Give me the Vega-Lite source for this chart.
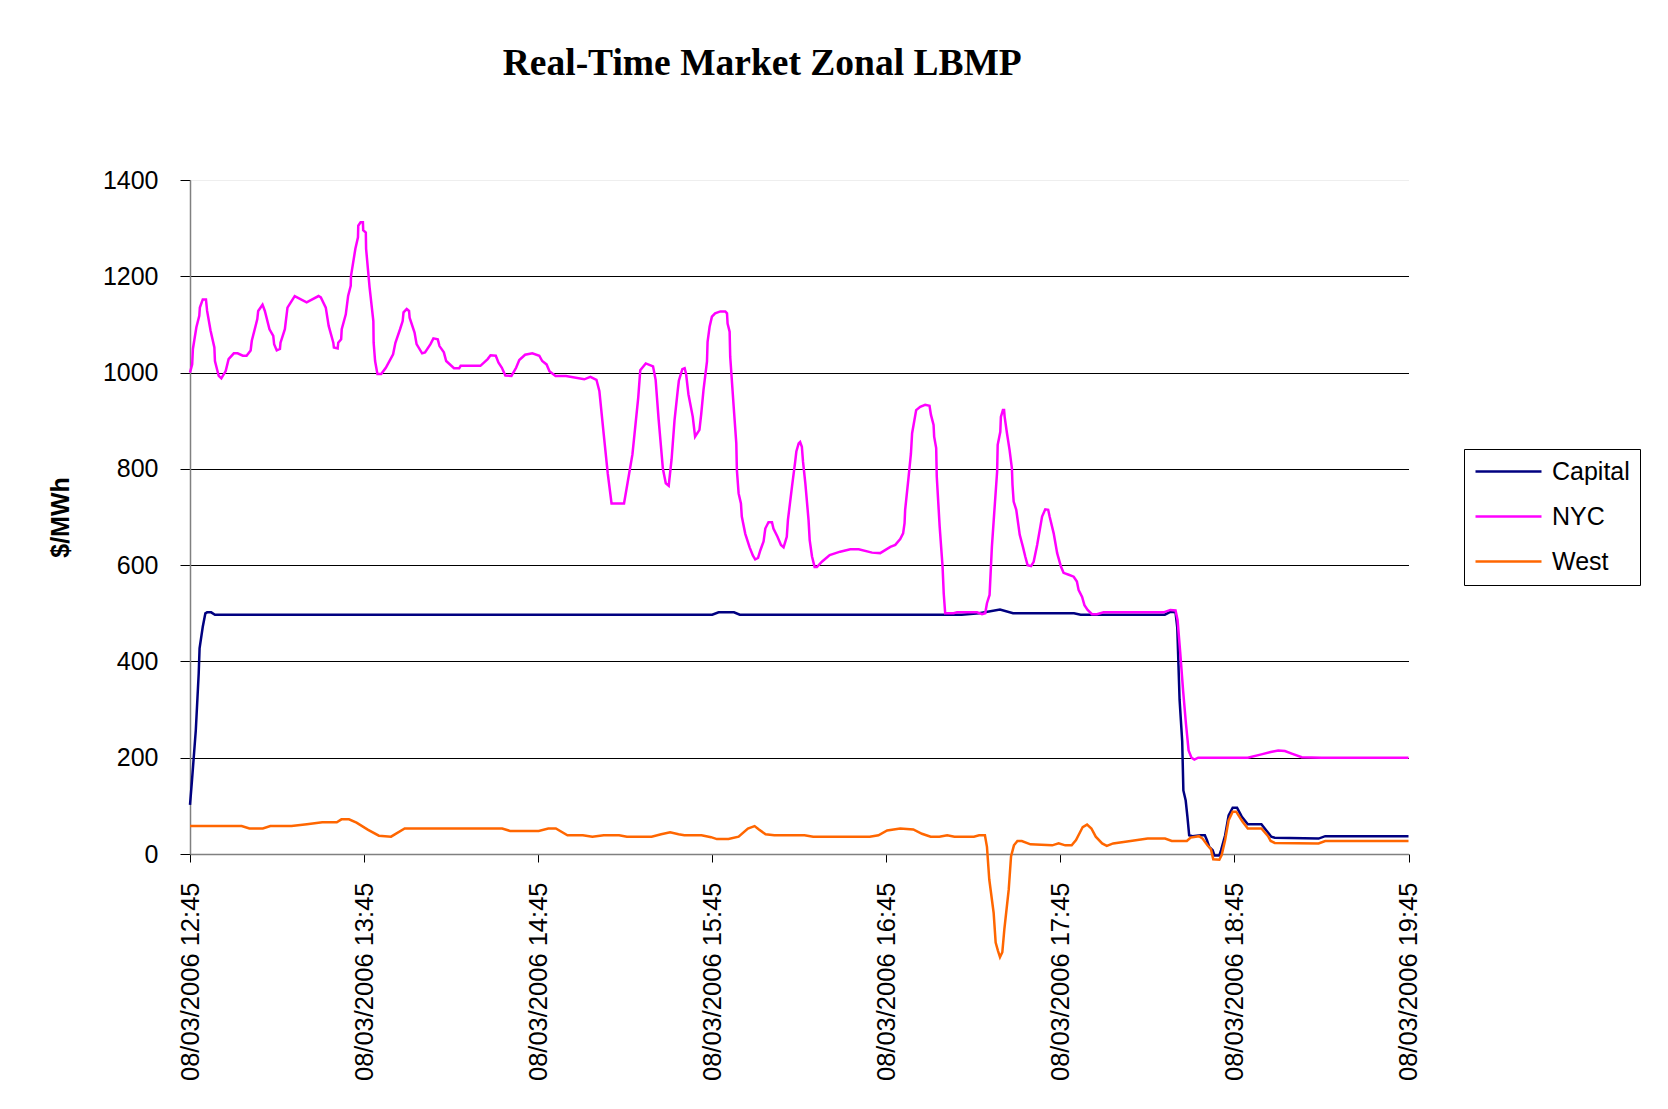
{
  "$schema": "https://vega.github.io/schema/vega-lite/v6.json",
  "autosize": {"type": "none"},
  "width": 1218.5,
  "height": 674,
  "padding": {"left": 190, "top": 180, "right": 259.5, "bottom": 255},
  "background": "white",
  "title": {
    "text": "Real-Time Market Zonal LBMP",
    "font": "Liberation Serif",
    "fontSize": 37.5,
    "fontWeight": "bold",
    "color": "black",
    "anchor": "middle",
    "frame": "group",
    "baseline": "alphabetic",
    "offset": 56,
    "dx": -37
  },
  "config": {
    "view": {"stroke": null},
    "font": "Liberation Sans"
  },
  "datasets": {
    "lbmp": [
      {"zone":"Capital","time":"2006-08-03T12:45:00","price":102},
      {"zone":"Capital","time":"2006-08-03T12:45:42","price":154},
      {"zone":"Capital","time":"2006-08-03T12:47:00","price":257},
      {"zone":"Capital","time":"2006-08-03T12:48:00","price":375},
      {"zone":"Capital","time":"2006-08-03T12:48:18","price":427},
      {"zone":"Capital","time":"2006-08-03T12:49:24","price":472},
      {"zone":"Capital","time":"2006-08-03T12:50:18","price":500},
      {"zone":"Capital","time":"2006-08-03T12:50:54","price":502},
      {"zone":"Capital","time":"2006-08-03T12:52:18","price":502},
      {"zone":"Capital","time":"2006-08-03T12:53:36","price":497},
      {"zone":"Capital","time":"2006-08-03T15:45:00","price":497},
      {"zone":"Capital","time":"2006-08-03T15:47:12","price":502},
      {"zone":"Capital","time":"2006-08-03T15:52:30","price":502},
      {"zone":"Capital","time":"2006-08-03T15:54:30","price":497},
      {"zone":"Capital","time":"2006-08-03T17:11:00","price":497},
      {"zone":"Capital","time":"2006-08-03T17:17:00","price":500},
      {"zone":"Capital","time":"2006-08-03T17:24:12","price":508},
      {"zone":"Capital","time":"2006-08-03T17:28:42","price":500},
      {"zone":"Capital","time":"2006-08-03T17:49:42","price":500},
      {"zone":"Capital","time":"2006-08-03T17:52:00","price":497},
      {"zone":"Capital","time":"2006-08-03T18:21:00","price":497},
      {"zone":"Capital","time":"2006-08-03T18:22:54","price":503},
      {"zone":"Capital","time":"2006-08-03T18:24:42","price":502},
      {"zone":"Capital","time":"2006-08-03T18:25:18","price":470},
      {"zone":"Capital","time":"2006-08-03T18:26:06","price":320},
      {"zone":"Capital","time":"2006-08-03T18:27:00","price":234},
      {"zone":"Capital","time":"2006-08-03T18:27:24","price":132},
      {"zone":"Capital","time":"2006-08-03T18:28:12","price":111},
      {"zone":"Capital","time":"2006-08-03T18:28:48","price":77},
      {"zone":"Capital","time":"2006-08-03T18:29:24","price":39},
      {"zone":"Capital","time":"2006-08-03T18:30:30","price":37},
      {"zone":"Capital","time":"2006-08-03T18:33:24","price":39},
      {"zone":"Capital","time":"2006-08-03T18:34:48","price":39},
      {"zone":"Capital","time":"2006-08-03T18:35:30","price":29},
      {"zone":"Capital","time":"2006-08-03T18:36:18","price":15},
      {"zone":"Capital","time":"2006-08-03T18:37:30","price":8},
      {"zone":"Capital","time":"2006-08-03T18:38:06","price":-3},
      {"zone":"Capital","time":"2006-08-03T18:39:48","price":-3},
      {"zone":"Capital","time":"2006-08-03T18:40:24","price":8},
      {"zone":"Capital","time":"2006-08-03T18:41:48","price":39},
      {"zone":"Capital","time":"2006-08-03T18:43:00","price":80},
      {"zone":"Capital","time":"2006-08-03T18:44:24","price":96},
      {"zone":"Capital","time":"2006-08-03T18:45:54","price":96},
      {"zone":"Capital","time":"2006-08-03T18:47:30","price":78},
      {"zone":"Capital","time":"2006-08-03T18:49:36","price":62},
      {"zone":"Capital","time":"2006-08-03T18:54:18","price":62},
      {"zone":"Capital","time":"2006-08-03T18:56:00","price":49},
      {"zone":"Capital","time":"2006-08-03T18:57:42","price":36},
      {"zone":"Capital","time":"2006-08-03T18:58:54","price":34},
      {"zone":"Capital","time":"2006-08-03T19:14:00","price":32},
      {"zone":"Capital","time":"2006-08-03T19:16:18","price":37},
      {"zone":"Capital","time":"2006-08-03T19:45:00","price":37},

      {"zone":"NYC","time":"2006-08-03T12:45:00","price":1000},
      {"zone":"NYC","time":"2006-08-03T12:45:45","price":1017},
      {"zone":"NYC","time":"2006-08-03T12:46:00","price":1049},
      {"zone":"NYC","time":"2006-08-03T12:47:12","price":1094},
      {"zone":"NYC","time":"2006-08-03T12:48:12","price":1118},
      {"zone":"NYC","time":"2006-08-03T12:48:24","price":1135},
      {"zone":"NYC","time":"2006-08-03T12:49:24","price":1152},
      {"zone":"NYC","time":"2006-08-03T12:50:30","price":1152},
      {"zone":"NYC","time":"2006-08-03T12:50:54","price":1128},
      {"zone":"NYC","time":"2006-08-03T12:52:06","price":1087},
      {"zone":"NYC","time":"2006-08-03T12:53:24","price":1052},
      {"zone":"NYC","time":"2006-08-03T12:53:36","price":1024},
      {"zone":"NYC","time":"2006-08-03T12:54:54","price":993},
      {"zone":"NYC","time":"2006-08-03T12:55:48","price":988},
      {"zone":"NYC","time":"2006-08-03T12:57:18","price":1003},
      {"zone":"NYC","time":"2006-08-03T12:58:18","price":1028},
      {"zone":"NYC","time":"2006-08-03T13:00:06","price":1040},
      {"zone":"NYC","time":"2006-08-03T13:01:24","price":1040},
      {"zone":"NYC","time":"2006-08-03T13:03:12","price":1035},
      {"zone":"NYC","time":"2006-08-03T13:04:30","price":1035},
      {"zone":"NYC","time":"2006-08-03T13:05:54","price":1046},
      {"zone":"NYC","time":"2006-08-03T13:06:18","price":1066},
      {"zone":"NYC","time":"2006-08-03T13:08:12","price":1111},
      {"zone":"NYC","time":"2006-08-03T13:08:30","price":1128},
      {"zone":"NYC","time":"2006-08-03T13:10:00","price":1141},
      {"zone":"NYC","time":"2006-08-03T13:10:48","price":1128},
      {"zone":"NYC","time":"2006-08-03T13:12:24","price":1090},
      {"zone":"NYC","time":"2006-08-03T13:13:42","price":1076},
      {"zone":"NYC","time":"2006-08-03T13:14:00","price":1059},
      {"zone":"NYC","time":"2006-08-03T13:14:54","price":1046},
      {"zone":"NYC","time":"2006-08-03T13:16:00","price":1049},
      {"zone":"NYC","time":"2006-08-03T13:16:12","price":1062},
      {"zone":"NYC","time":"2006-08-03T13:17:42","price":1090},
      {"zone":"NYC","time":"2006-08-03T13:18:36","price":1135},
      {"zone":"NYC","time":"2006-08-03T13:21:06","price":1159},
      {"zone":"NYC","time":"2006-08-03T13:25:12","price":1146},
      {"zone":"NYC","time":"2006-08-03T13:29:18","price":1159},
      {"zone":"NYC","time":"2006-08-03T13:30:06","price":1156},
      {"zone":"NYC","time":"2006-08-03T13:31:48","price":1135},
      {"zone":"NYC","time":"2006-08-03T13:32:48","price":1097},
      {"zone":"NYC","time":"2006-08-03T13:34:24","price":1062},
      {"zone":"NYC","time":"2006-08-03T13:34:36","price":1052},
      {"zone":"NYC","time":"2006-08-03T13:35:54","price":1050},
      {"zone":"NYC","time":"2006-08-03T13:36:06","price":1062},
      {"zone":"NYC","time":"2006-08-03T13:37:06","price":1069},
      {"zone":"NYC","time":"2006-08-03T13:37:18","price":1090},
      {"zone":"NYC","time":"2006-08-03T13:38:42","price":1121},
      {"zone":"NYC","time":"2006-08-03T13:39:30","price":1159},
      {"zone":"NYC","time":"2006-08-03T13:40:24","price":1180},
      {"zone":"NYC","time":"2006-08-03T13:40:30","price":1201},
      {"zone":"NYC","time":"2006-08-03T13:42:00","price":1257},
      {"zone":"NYC","time":"2006-08-03T13:42:54","price":1281},
      {"zone":"NYC","time":"2006-08-03T13:43:00","price":1305},
      {"zone":"NYC","time":"2006-08-03T13:43:48","price":1312},
      {"zone":"NYC","time":"2006-08-03T13:44:36","price":1312},
      {"zone":"NYC","time":"2006-08-03T13:44:42","price":1296},
      {"zone":"NYC","time":"2006-08-03T13:45:36","price":1291},
      {"zone":"NYC","time":"2006-08-03T13:45:42","price":1257},
      {"zone":"NYC","time":"2006-08-03T13:46:54","price":1177},
      {"zone":"NYC","time":"2006-08-03T13:48:12","price":1107},
      {"zone":"NYC","time":"2006-08-03T13:48:18","price":1062},
      {"zone":"NYC","time":"2006-08-03T13:48:48","price":1024},
      {"zone":"NYC","time":"2006-08-03T13:49:36","price":997},
      {"zone":"NYC","time":"2006-08-03T13:50:54","price":997},
      {"zone":"NYC","time":"2006-08-03T13:52:30","price":1010},
      {"zone":"NYC","time":"2006-08-03T13:55:00","price":1038},
      {"zone":"NYC","time":"2006-08-03T13:55:48","price":1062},
      {"zone":"NYC","time":"2006-08-03T13:57:24","price":1090},
      {"zone":"NYC","time":"2006-08-03T13:58:18","price":1107},
      {"zone":"NYC","time":"2006-08-03T13:58:36","price":1125},
      {"zone":"NYC","time":"2006-08-03T13:59:42","price":1132},
      {"zone":"NYC","time":"2006-08-03T14:00:30","price":1128},
      {"zone":"NYC","time":"2006-08-03T14:00:42","price":1114},
      {"zone":"NYC","time":"2006-08-03T14:02:24","price":1083},
      {"zone":"NYC","time":"2006-08-03T14:03:06","price":1059},
      {"zone":"NYC","time":"2006-08-03T14:05:00","price":1040},
      {"zone":"NYC","time":"2006-08-03T14:06:00","price":1042},
      {"zone":"NYC","time":"2006-08-03T14:07:54","price":1059},
      {"zone":"NYC","time":"2006-08-03T14:08:54","price":1071},
      {"zone":"NYC","time":"2006-08-03T14:10:24","price":1069},
      {"zone":"NYC","time":"2006-08-03T14:11:00","price":1055},
      {"zone":"NYC","time":"2006-08-03T14:12:30","price":1042},
      {"zone":"NYC","time":"2006-08-03T14:13:18","price":1024},
      {"zone":"NYC","time":"2006-08-03T14:16:00","price":1009},
      {"zone":"NYC","time":"2006-08-03T14:17:48","price":1009},
      {"zone":"NYC","time":"2006-08-03T14:18:18","price":1014},
      {"zone":"NYC","time":"2006-08-03T14:25:06","price":1014},
      {"zone":"NYC","time":"2006-08-03T14:27:36","price":1028},
      {"zone":"NYC","time":"2006-08-03T14:28:36","price":1036},
      {"zone":"NYC","time":"2006-08-03T14:30:24","price":1035},
      {"zone":"NYC","time":"2006-08-03T14:31:18","price":1021},
      {"zone":"NYC","time":"2006-08-03T14:32:30","price":1010},
      {"zone":"NYC","time":"2006-08-03T14:33:42","price":994},
      {"zone":"NYC","time":"2006-08-03T14:35:48","price":993},
      {"zone":"NYC","time":"2006-08-03T14:37:24","price":1010},
      {"zone":"NYC","time":"2006-08-03T14:38:30","price":1026},
      {"zone":"NYC","time":"2006-08-03T14:40:30","price":1037},
      {"zone":"NYC","time":"2006-08-03T14:43:00","price":1040},
      {"zone":"NYC","time":"2006-08-03T14:45:24","price":1035},
      {"zone":"NYC","time":"2006-08-03T14:46:24","price":1024},
      {"zone":"NYC","time":"2006-08-03T14:47:54","price":1017},
      {"zone":"NYC","time":"2006-08-03T14:48:54","price":1003},
      {"zone":"NYC","time":"2006-08-03T14:51:00","price":993},
      {"zone":"NYC","time":"2006-08-03T14:54:36","price":993},
      {"zone":"NYC","time":"2006-08-03T15:00:54","price":986},
      {"zone":"NYC","time":"2006-08-03T15:03:00","price":991},
      {"zone":"NYC","time":"2006-08-03T15:05:06","price":985},
      {"zone":"NYC","time":"2006-08-03T15:06:06","price":962},
      {"zone":"NYC","time":"2006-08-03T15:07:36","price":872},
      {"zone":"NYC","time":"2006-08-03T15:09:00","price":790},
      {"zone":"NYC","time":"2006-08-03T15:10:18","price":728},
      {"zone":"NYC","time":"2006-08-03T15:14:36","price":728},
      {"zone":"NYC","time":"2006-08-03T15:15:48","price":770},
      {"zone":"NYC","time":"2006-08-03T15:17:30","price":830},
      {"zone":"NYC","time":"2006-08-03T15:19:30","price":948},
      {"zone":"NYC","time":"2006-08-03T15:20:12","price":1005},
      {"zone":"NYC","time":"2006-08-03T15:22:06","price":1019},
      {"zone":"NYC","time":"2006-08-03T15:24:36","price":1013},
      {"zone":"NYC","time":"2006-08-03T15:25:30","price":985},
      {"zone":"NYC","time":"2006-08-03T15:26:30","price":905},
      {"zone":"NYC","time":"2006-08-03T15:28:00","price":800},
      {"zone":"NYC","time":"2006-08-03T15:29:00","price":770},
      {"zone":"NYC","time":"2006-08-03T15:30:00","price":765},
      {"zone":"NYC","time":"2006-08-03T15:31:00","price":820},
      {"zone":"NYC","time":"2006-08-03T15:32:00","price":900},
      {"zone":"NYC","time":"2006-08-03T15:33:06","price":962},
      {"zone":"NYC","time":"2006-08-03T15:33:30","price":983},
      {"zone":"NYC","time":"2006-08-03T15:34:42","price":1007},
      {"zone":"NYC","time":"2006-08-03T15:35:30","price":1009},
      {"zone":"NYC","time":"2006-08-03T15:36:00","price":997},
      {"zone":"NYC","time":"2006-08-03T15:36:48","price":955},
      {"zone":"NYC","time":"2006-08-03T15:38:18","price":908},
      {"zone":"NYC","time":"2006-08-03T15:39:06","price":867},
      {"zone":"NYC","time":"2006-08-03T15:40:36","price":881},
      {"zone":"NYC","time":"2006-08-03T15:41:12","price":913},
      {"zone":"NYC","time":"2006-08-03T15:42:00","price":964},
      {"zone":"NYC","time":"2006-08-03T15:43:12","price":1023},
      {"zone":"NYC","time":"2006-08-03T15:43:24","price":1064},
      {"zone":"NYC","time":"2006-08-03T15:44:06","price":1095},
      {"zone":"NYC","time":"2006-08-03T15:44:54","price":1116},
      {"zone":"NYC","time":"2006-08-03T15:46:00","price":1123},
      {"zone":"NYC","time":"2006-08-03T15:47:48","price":1127},
      {"zone":"NYC","time":"2006-08-03T15:49:30","price":1127},
      {"zone":"NYC","time":"2006-08-03T15:50:06","price":1123},
      {"zone":"NYC","time":"2006-08-03T15:50:18","price":1102},
      {"zone":"NYC","time":"2006-08-03T15:51:00","price":1085},
      {"zone":"NYC","time":"2006-08-03T15:51:12","price":1033},
      {"zone":"NYC","time":"2006-08-03T15:52:24","price":929},
      {"zone":"NYC","time":"2006-08-03T15:53:18","price":853},
      {"zone":"NYC","time":"2006-08-03T15:53:30","price":798},
      {"zone":"NYC","time":"2006-08-03T15:54:06","price":749},
      {"zone":"NYC","time":"2006-08-03T15:54:54","price":728},
      {"zone":"NYC","time":"2006-08-03T15:55:12","price":701},
      {"zone":"NYC","time":"2006-08-03T15:56:24","price":665},
      {"zone":"NYC","time":"2006-08-03T15:57:54","price":637},
      {"zone":"NYC","time":"2006-08-03T15:59:00","price":620},
      {"zone":"NYC","time":"2006-08-03T15:59:48","price":612},
      {"zone":"NYC","time":"2006-08-03T16:00:48","price":615},
      {"zone":"NYC","time":"2006-08-03T16:01:36","price":631},
      {"zone":"NYC","time":"2006-08-03T16:02:42","price":649},
      {"zone":"NYC","time":"2006-08-03T16:03:18","price":676},
      {"zone":"NYC","time":"2006-08-03T16:04:24","price":689},
      {"zone":"NYC","time":"2006-08-03T16:05:36","price":689},
      {"zone":"NYC","time":"2006-08-03T16:06:06","price":676},
      {"zone":"NYC","time":"2006-08-03T16:07:30","price":659},
      {"zone":"NYC","time":"2006-08-03T16:08:42","price":642},
      {"zone":"NYC","time":"2006-08-03T16:09:36","price":637},
      {"zone":"NYC","time":"2006-08-03T16:10:12","price":649},
      {"zone":"NYC","time":"2006-08-03T16:10:42","price":659},
      {"zone":"NYC","time":"2006-08-03T16:11:06","price":694},
      {"zone":"NYC","time":"2006-08-03T16:12:30","price":763},
      {"zone":"NYC","time":"2006-08-03T16:13:36","price":815},
      {"zone":"NYC","time":"2006-08-03T16:14:00","price":836},
      {"zone":"NYC","time":"2006-08-03T16:14:48","price":853},
      {"zone":"NYC","time":"2006-08-03T16:15:18","price":856},
      {"zone":"NYC","time":"2006-08-03T16:15:54","price":846},
      {"zone":"NYC","time":"2006-08-03T16:16:18","price":815},
      {"zone":"NYC","time":"2006-08-03T16:17:06","price":770},
      {"zone":"NYC","time":"2006-08-03T16:18:12","price":694},
      {"zone":"NYC","time":"2006-08-03T16:18:36","price":652},
      {"zone":"NYC","time":"2006-08-03T16:19:24","price":618},
      {"zone":"NYC","time":"2006-08-03T16:20:18","price":596},
      {"zone":"NYC","time":"2006-08-03T16:21:06","price":596},
      {"zone":"NYC","time":"2006-08-03T16:22:48","price":607},
      {"zone":"NYC","time":"2006-08-03T16:25:30","price":621},
      {"zone":"NYC","time":"2006-08-03T16:29:06","price":628},
      {"zone":"NYC","time":"2006-08-03T16:32:36","price":633},
      {"zone":"NYC","time":"2006-08-03T16:35:30","price":633},
      {"zone":"NYC","time":"2006-08-03T16:40:06","price":626},
      {"zone":"NYC","time":"2006-08-03T16:42:54","price":625},
      {"zone":"NYC","time":"2006-08-03T16:46:24","price":638},
      {"zone":"NYC","time":"2006-08-03T16:48:06","price":642},
      {"zone":"NYC","time":"2006-08-03T16:49:48","price":654},
      {"zone":"NYC","time":"2006-08-03T16:50:48","price":666},
      {"zone":"NYC","time":"2006-08-03T16:51:18","price":687},
      {"zone":"NYC","time":"2006-08-03T16:51:30","price":715},
      {"zone":"NYC","time":"2006-08-03T16:52:42","price":784},
      {"zone":"NYC","time":"2006-08-03T16:53:30","price":832},
      {"zone":"NYC","time":"2006-08-03T16:53:54","price":874},
      {"zone":"NYC","time":"2006-08-03T16:55:18","price":922},
      {"zone":"NYC","time":"2006-08-03T16:56:42","price":929},
      {"zone":"NYC","time":"2006-08-03T16:58:24","price":933},
      {"zone":"NYC","time":"2006-08-03T16:59:54","price":931},
      {"zone":"NYC","time":"2006-08-03T17:00:24","price":912},
      {"zone":"NYC","time":"2006-08-03T17:01:18","price":891},
      {"zone":"NYC","time":"2006-08-03T17:01:30","price":867},
      {"zone":"NYC","time":"2006-08-03T17:02:12","price":843},
      {"zone":"NYC","time":"2006-08-03T17:02:24","price":784},
      {"zone":"NYC","time":"2006-08-03T17:03:24","price":680},
      {"zone":"NYC","time":"2006-08-03T17:04:24","price":597},
      {"zone":"NYC","time":"2006-08-03T17:04:48","price":541},
      {"zone":"NYC","time":"2006-08-03T17:05:18","price":500},
      {"zone":"NYC","time":"2006-08-03T17:08:12","price":500},
      {"zone":"NYC","time":"2006-08-03T17:09:24","price":502},
      {"zone":"NYC","time":"2006-08-03T17:16:18","price":502},
      {"zone":"NYC","time":"2006-08-03T17:18:00","price":498},
      {"zone":"NYC","time":"2006-08-03T17:19:06","price":500},
      {"zone":"NYC","time":"2006-08-03T17:19:42","price":521},
      {"zone":"NYC","time":"2006-08-03T17:20:36","price":538},
      {"zone":"NYC","time":"2006-08-03T17:21:24","price":638},
      {"zone":"NYC","time":"2006-08-03T17:22:12","price":708},
      {"zone":"NYC","time":"2006-08-03T17:23:12","price":794},
      {"zone":"NYC","time":"2006-08-03T17:23:24","price":850},
      {"zone":"NYC","time":"2006-08-03T17:24:18","price":877},
      {"zone":"NYC","time":"2006-08-03T17:24:30","price":908},
      {"zone":"NYC","time":"2006-08-03T17:25:12","price":922},
      {"zone":"NYC","time":"2006-08-03T17:25:36","price":922},
      {"zone":"NYC","time":"2006-08-03T17:25:48","price":908},
      {"zone":"NYC","time":"2006-08-03T17:26:36","price":874},
      {"zone":"NYC","time":"2006-08-03T17:27:30","price":839},
      {"zone":"NYC","time":"2006-08-03T17:28:18","price":801},
      {"zone":"NYC","time":"2006-08-03T17:28:30","price":767},
      {"zone":"NYC","time":"2006-08-03T17:28:54","price":732},
      {"zone":"NYC","time":"2006-08-03T17:29:48","price":715},
      {"zone":"NYC","time":"2006-08-03T17:31:00","price":663},
      {"zone":"NYC","time":"2006-08-03T17:32:06","price":638},
      {"zone":"NYC","time":"2006-08-03T17:32:54","price":618},
      {"zone":"NYC","time":"2006-08-03T17:33:42","price":600},
      {"zone":"NYC","time":"2006-08-03T17:34:54","price":598},
      {"zone":"NYC","time":"2006-08-03T17:35:48","price":607},
      {"zone":"NYC","time":"2006-08-03T17:37:00","price":642},
      {"zone":"NYC","time":"2006-08-03T17:38:06","price":680},
      {"zone":"NYC","time":"2006-08-03T17:38:42","price":701},
      {"zone":"NYC","time":"2006-08-03T17:39:48","price":716},
      {"zone":"NYC","time":"2006-08-03T17:40:48","price":715},
      {"zone":"NYC","time":"2006-08-03T17:41:18","price":701},
      {"zone":"NYC","time":"2006-08-03T17:42:42","price":666},
      {"zone":"NYC","time":"2006-08-03T17:43:54","price":625},
      {"zone":"NYC","time":"2006-08-03T17:45:12","price":597},
      {"zone":"NYC","time":"2006-08-03T17:46:06","price":584},
      {"zone":"NYC","time":"2006-08-03T17:47:54","price":580},
      {"zone":"NYC","time":"2006-08-03T17:49:36","price":576},
      {"zone":"NYC","time":"2006-08-03T17:50:42","price":566},
      {"zone":"NYC","time":"2006-08-03T17:51:18","price":548},
      {"zone":"NYC","time":"2006-08-03T17:52:30","price":534},
      {"zone":"NYC","time":"2006-08-03T17:53:18","price":517},
      {"zone":"NYC","time":"2006-08-03T17:54:24","price":507},
      {"zone":"NYC","time":"2006-08-03T17:55:54","price":498},
      {"zone":"NYC","time":"2006-08-03T17:57:36","price":498},
      {"zone":"NYC","time":"2006-08-03T17:59:54","price":502},
      {"zone":"NYC","time":"2006-08-03T18:06:48","price":502},
      {"zone":"NYC","time":"2006-08-03T18:20:36","price":502},
      {"zone":"NYC","time":"2006-08-03T18:22:54","price":507},
      {"zone":"NYC","time":"2006-08-03T18:24:42","price":506},
      {"zone":"NYC","time":"2006-08-03T18:25:24","price":486},
      {"zone":"NYC","time":"2006-08-03T18:26:18","price":420},
      {"zone":"NYC","time":"2006-08-03T18:27:18","price":340},
      {"zone":"NYC","time":"2006-08-03T18:28:18","price":270},
      {"zone":"NYC","time":"2006-08-03T18:29:12","price":215},
      {"zone":"NYC","time":"2006-08-03T18:30:12","price":200},
      {"zone":"NYC","time":"2006-08-03T18:31:12","price":196},
      {"zone":"NYC","time":"2006-08-03T18:32:30","price":200},
      {"zone":"NYC","time":"2006-08-03T18:49:36","price":200},
      {"zone":"NYC","time":"2006-08-03T18:54:18","price":207},
      {"zone":"NYC","time":"2006-08-03T18:57:30","price":212},
      {"zone":"NYC","time":"2006-08-03T19:00:06","price":215},
      {"zone":"NYC","time":"2006-08-03T19:02:24","price":214},
      {"zone":"NYC","time":"2006-08-03T19:05:00","price":208},
      {"zone":"NYC","time":"2006-08-03T19:08:12","price":201},
      {"zone":"NYC","time":"2006-08-03T19:15:00","price":200},
      {"zone":"NYC","time":"2006-08-03T19:45:00","price":200},

      {"zone":"West","time":"2006-08-03T12:45:00","price":58},
      {"zone":"West","time":"2006-08-03T13:02:48","price":58},
      {"zone":"West","time":"2006-08-03T13:05:30","price":53},
      {"zone":"West","time":"2006-08-03T13:10:06","price":53},
      {"zone":"West","time":"2006-08-03T13:12:42","price":58},
      {"zone":"West","time":"2006-08-03T13:20:00","price":58},
      {"zone":"West","time":"2006-08-03T13:25:18","price":62},
      {"zone":"West","time":"2006-08-03T13:30:36","price":66},
      {"zone":"West","time":"2006-08-03T13:35:36","price":66},
      {"zone":"West","time":"2006-08-03T13:37:12","price":72},
      {"zone":"West","time":"2006-08-03T13:39:48","price":72},
      {"zone":"West","time":"2006-08-03T13:42:24","price":65},
      {"zone":"West","time":"2006-08-03T13:46:24","price":50},
      {"zone":"West","time":"2006-08-03T13:50:06","price":38},
      {"zone":"West","time":"2006-08-03T13:54:18","price":36},
      {"zone":"West","time":"2006-08-03T13:59:00","price":53},
      {"zone":"West","time":"2006-08-03T14:03:36","price":53},
      {"zone":"West","time":"2006-08-03T14:32:36","price":53},
      {"zone":"West","time":"2006-08-03T14:35:18","price":48},
      {"zone":"West","time":"2006-08-03T14:45:12","price":48},
      {"zone":"West","time":"2006-08-03T14:48:30","price":53},
      {"zone":"West","time":"2006-08-03T14:51:06","price":53},
      {"zone":"West","time":"2006-08-03T14:55:06","price":39},
      {"zone":"West","time":"2006-08-03T15:00:24","price":39},
      {"zone":"West","time":"2006-08-03T15:03:42","price":36},
      {"zone":"West","time":"2006-08-03T15:07:36","price":39},
      {"zone":"West","time":"2006-08-03T15:12:54","price":39},
      {"zone":"West","time":"2006-08-03T15:15:36","price":36},
      {"zone":"West","time":"2006-08-03T15:24:06","price":36},
      {"zone":"West","time":"2006-08-03T15:27:24","price":41},
      {"zone":"West","time":"2006-08-03T15:30:30","price":45},
      {"zone":"West","time":"2006-08-03T15:33:24","price":41},
      {"zone":"West","time":"2006-08-03T15:35:24","price":39},
      {"zone":"West","time":"2006-08-03T15:41:18","price":39},
      {"zone":"West","time":"2006-08-03T15:44:36","price":35},
      {"zone":"West","time":"2006-08-03T15:46:36","price":31},
      {"zone":"West","time":"2006-08-03T15:50:36","price":31},
      {"zone":"West","time":"2006-08-03T15:54:06","price":36},
      {"zone":"West","time":"2006-08-03T15:57:18","price":53},
      {"zone":"West","time":"2006-08-03T15:59:36","price":58},
      {"zone":"West","time":"2006-08-03T16:01:06","price":51},
      {"zone":"West","time":"2006-08-03T16:03:24","price":41},
      {"zone":"West","time":"2006-08-03T16:06:24","price":39},
      {"zone":"West","time":"2006-08-03T16:16:48","price":39},
      {"zone":"West","time":"2006-08-03T16:19:48","price":36},
      {"zone":"West","time":"2006-08-03T16:39:18","price":36},
      {"zone":"West","time":"2006-08-03T16:42:18","price":39},
      {"zone":"West","time":"2006-08-03T16:45:18","price":49},
      {"zone":"West","time":"2006-08-03T16:49:48","price":53},
      {"zone":"West","time":"2006-08-03T16:54:18","price":51},
      {"zone":"West","time":"2006-08-03T16:57:18","price":42},
      {"zone":"West","time":"2006-08-03T17:00:18","price":36},
      {"zone":"West","time":"2006-08-03T17:03:18","price":36},
      {"zone":"West","time":"2006-08-03T17:06:00","price":39},
      {"zone":"West","time":"2006-08-03T17:08:30","price":36},
      {"zone":"West","time":"2006-08-03T17:15:12","price":36},
      {"zone":"West","time":"2006-08-03T17:17:00","price":39},
      {"zone":"West","time":"2006-08-03T17:19:00","price":39},
      {"zone":"West","time":"2006-08-03T17:19:42","price":15},
      {"zone":"West","time":"2006-08-03T17:20:30","price":-53},
      {"zone":"West","time":"2006-08-03T17:22:00","price":-122},
      {"zone":"West","time":"2006-08-03T17:22:42","price":-184},
      {"zone":"West","time":"2006-08-03T17:23:30","price":-201},
      {"zone":"West","time":"2006-08-03T17:24:12","price":-214},
      {"zone":"West","time":"2006-08-03T17:25:00","price":-204},
      {"zone":"West","time":"2006-08-03T17:25:42","price":-156},
      {"zone":"West","time":"2006-08-03T17:27:12","price":-74},
      {"zone":"West","time":"2006-08-03T17:28:00","price":-5},
      {"zone":"West","time":"2006-08-03T17:29:00","price":18},
      {"zone":"West","time":"2006-08-03T17:30:12","price":27},
      {"zone":"West","time":"2006-08-03T17:31:42","price":27},
      {"zone":"West","time":"2006-08-03T17:34:42","price":20},
      {"zone":"West","time":"2006-08-03T17:42:12","price":18},
      {"zone":"West","time":"2006-08-03T17:44:24","price":22},
      {"zone":"West","time":"2006-08-03T17:46:42","price":18},
      {"zone":"West","time":"2006-08-03T17:48:54","price":18},
      {"zone":"West","time":"2006-08-03T17:50:24","price":29},
      {"zone":"West","time":"2006-08-03T17:52:42","price":56},
      {"zone":"West","time":"2006-08-03T17:54:12","price":61},
      {"zone":"West","time":"2006-08-03T17:55:42","price":53},
      {"zone":"West","time":"2006-08-03T17:57:12","price":36},
      {"zone":"West","time":"2006-08-03T17:59:24","price":22},
      {"zone":"West","time":"2006-08-03T18:01:00","price":17},
      {"zone":"West","time":"2006-08-03T18:03:12","price":22},
      {"zone":"West","time":"2006-08-03T18:09:12","price":27},
      {"zone":"West","time":"2006-08-03T18:15:06","price":32},
      {"zone":"West","time":"2006-08-03T18:21:06","price":32},
      {"zone":"West","time":"2006-08-03T18:23:24","price":27},
      {"zone":"West","time":"2006-08-03T18:28:36","price":27},
      {"zone":"West","time":"2006-08-03T18:29:54","price":34},
      {"zone":"West","time":"2006-08-03T18:32:48","price":37},
      {"zone":"West","time":"2006-08-03T18:34:00","price":32},
      {"zone":"West","time":"2006-08-03T18:35:42","price":18},
      {"zone":"West","time":"2006-08-03T18:36:54","price":10},
      {"zone":"West","time":"2006-08-03T18:37:42","price":-11},
      {"zone":"West","time":"2006-08-03T18:39:48","price":-12},
      {"zone":"West","time":"2006-08-03T18:40:36","price":-2},
      {"zone":"West","time":"2006-08-03T18:41:48","price":29},
      {"zone":"West","time":"2006-08-03T18:43:00","price":70},
      {"zone":"West","time":"2006-08-03T18:44:24","price":88},
      {"zone":"West","time":"2006-08-03T18:45:36","price":88},
      {"zone":"West","time":"2006-08-03T18:47:42","price":68},
      {"zone":"West","time":"2006-08-03T18:49:36","price":53},
      {"zone":"West","time":"2006-08-03T18:54:18","price":53},
      {"zone":"West","time":"2006-08-03T18:56:36","price":37},
      {"zone":"West","time":"2006-08-03T18:57:30","price":27},
      {"zone":"West","time":"2006-08-03T18:58:54","price":23},
      {"zone":"West","time":"2006-08-03T19:14:00","price":22},
      {"zone":"West","time":"2006-08-03T19:16:18","price":27},
      {"zone":"West","time":"2006-08-03T19:45:00","price":27}
    ]
  },
  "data": {"name": "lbmp"},
  "mark": {"type": "line", "strokeWidth": 2.5, "clip": false},
  "encoding": {
    "x": {
      "field": "time",
      "type": "temporal",
      "scale": {
        "domain": [
          {"year": 2006, "month": 8, "date": 3, "hours": 12, "minutes": 45},
          {"year": 2006, "month": 8, "date": 3, "hours": 19, "minutes": 45}
        ],
        "nice": false
      },
      "axis": {
        "title": null,
        "format": "%m/%d/%Y %H:%M",
        "values": [
          {"year": 2006, "month": 8, "date": 3, "hours": 12, "minutes": 45},
          {"year": 2006, "month": 8, "date": 3, "hours": 13, "minutes": 45},
          {"year": 2006, "month": 8, "date": 3, "hours": 14, "minutes": 45},
          {"year": 2006, "month": 8, "date": 3, "hours": 15, "minutes": 45},
          {"year": 2006, "month": 8, "date": 3, "hours": 16, "minutes": 45},
          {"year": 2006, "month": 8, "date": 3, "hours": 17, "minutes": 45},
          {"year": 2006, "month": 8, "date": 3, "hours": 18, "minutes": 45},
          {"year": 2006, "month": 8, "date": 3, "hours": 19, "minutes": 45}
        ],
        "labelAngle": 270,
        "labelAlign": "right",
        "labelBaseline": "middle",
        "labelFont": "Liberation Sans",
        "labelFontSize": 25.5,
        "labelColor": "black",
        "labelPadding": 20,
        "labelLimit": 0,
        "labelFlush": false,
        "labelOverlap": false,
        "tickSize": 8,
        "tickColor": "black",
        "tickWidth": 1,
        "domainColor": "#808080",
        "domainWidth": 1.5,
        "grid": false
      }
    },
    "y": {
      "field": "price",
      "type": "quantitative",
      "scale": {"domain": [0, 1400], "nice": false, "zero": false},
      "axis": {
        "title": "$/MWh",
        "titleFont": "Liberation Sans",
        "titleFontSize": 25,
        "titleFontWeight": "bold",
        "titleColor": "black",
        "titleAngle": 270,
        "titleX": -130,
        "titleY": 337,
        "titleAlign": "center",
        "titleBaseline": "middle",
        "values": [0, 200, 400, 600, 800, 1000, 1200, 1400],
        "format": "d",
        "labelFont": "Liberation Sans",
        "labelFontSize": 25,
        "labelColor": "black",
        "labelPadding": 22,
        "tickSize": 10,
        "tickColor": "black",
        "tickWidth": 1,
        "domainColor": "#808080",
        "domainWidth": 1.5,
        "grid": true,
        "gridColor": {"condition": {"test": "datum.value == 1400 || datum.value == 0", "value": "#eeeeee"}, "value": "black"},
        "gridWidth": 1
      }
    },
    "color": {
      "field": "zone",
      "type": "nominal",
      "scale": {"domain": ["Capital", "NYC", "West"], "range": ["#000080", "#FF00FF", "#FF6600"]},
      "legend": {
        "title": null,
        "orient": "none",
        "legendX": 1274,
        "legendY": 269,
        "strokeColor": "black",
        "fillColor": "white",
        "padding": 10,
        "symbolType": "M-1,0H5",
        "symbolSize": 484,
        "symbolStrokeWidth": 2.5,
        "labelFont": "Liberation Sans",
        "labelFontSize": 25,
        "labelColor": "black",
        "labelOffset": 53,
        "rowPadding": 19
      }
    }
  }
}
